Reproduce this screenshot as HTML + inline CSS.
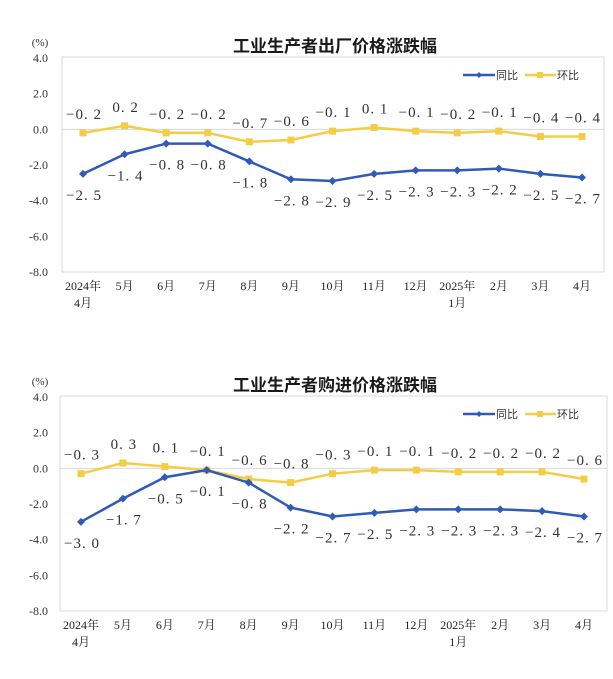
<!DOCTYPE html>
<html><head><meta charset="utf-8">
<style>
html,body{margin:0;padding:0;background:#fff;}
svg{display:block;font-family:"Liberation Serif","Noto Serif CJK SC",serif;}
</style></head>
<body>
<svg id="chart" width="613" height="679" viewBox="0 0 613 679" xmlns="http://www.w3.org/2000/svg"></svg>
<script>
const categories = ["2024年|4月","5月","6月","7月","8月","9月","10月","11月","12月","2025年|1月","2月","3月","4月"];
const yTicks = [4.0, 2.0, 0.0, -2.0, -4.0, -6.0, -8.0];
const chart1Title = "工业生产者出厂价格涨跌幅";
const chart1Yoy = [-2.5,-1.4,-0.8,-0.8,-1.8,-2.8,-2.9,-2.5,-2.3,-2.3,-2.2,-2.5,-2.7];
const chart1Mom = [-0.2,0.2,-0.2,-0.2,-0.7,-0.6,-0.1,0.1,-0.1,-0.2,-0.1,-0.4,-0.4];
const chart2Title = "工业生产者购进价格涨跌幅";
const chart2Yoy = [-3.0,-1.7,-0.5,-0.1,-0.8,-2.2,-2.7,-2.5,-2.3,-2.3,-2.3,-2.4,-2.7];
const chart2Mom = [-0.3,0.3,0.1,-0.1,-0.6,-0.8,-0.3,-0.1,-0.1,-0.2,-0.2,-0.2,-0.6];

const NS = "http://www.w3.org/2000/svg";
const root = document.getElementById('chart');
function mk(tag, attrs, parent, text){
  const e = document.createElementNS(NS, tag);
  for (const k in attrs) e.setAttribute(k, attrs[k]);
  if (text !== undefined) e.textContent = text;
  (parent||root).appendChild(e);
  return e;
}
function fmt(v){ return (v<0?"\u2212":"") + Math.abs(v).toFixed(1).replace(".", ". "); }
const BLUE="#2f5bb7", YEL="#f3cd46";

function drawChart(name, off, title, yoy, mom, plotL, plotR, x0, x1){
  const g = mk('g', {});
  
  
  const yTop = 58 + off, yBot = 272 + off;
  const yS = v => yTop + (4 - v) / 12 * (yBot - yTop);
  const xS = i => x0 + i * (x1 - x0) / (categories.length - 1);
  const t = mk('text', {x: 335, y: 52+off, 'text-anchor':'middle', 'font-size':17, 'font-weight':'bold', fill:'#1a1a1a', 'font-family':'"Noto Sans CJK SC",sans-serif'}, g, title);
  
  
  const u = mk('text', {x: 40, y: 46+off, 'text-anchor':'middle', 'font-size':11, fill:'#333'}, g, "(%)");
  
  
  const fr = mk('rect', {x: plotL, y: yTop-1, width: plotR-plotL, height: yBot-yTop+1, fill:'none', stroke:'#d9d9d9', 'stroke-width':1}, g);
  
  
  mk('line', {x1: plotL, x2: plotR, y1: yS(0), y2: yS(0), stroke:'#d9d9d9', 'stroke-width':1}, g);
  yTicks.forEach(v => {
    const tk = mk('text', {x: 48, y: yS(v)+4, 'text-anchor':'end', 'font-size':12, fill:'#333'}, g, v.toFixed(1));
    
    
  });
  categories.forEach((c, i) => {
    const parts = c.split('|');
    parts.forEach((p, j) => {
      const cl = mk('text', {x: xS(i), y: yBot+18+j*17, 'text-anchor':'middle', 'font-size':12, fill:'#222'}, g, p);
      
      
    });
  });
  function series(vals, color, sname, marker, labelDy){
    const pl = mk('polyline', {points: vals.map((v,i)=>xS(i)+','+yS(v)).join(' '), fill:'none', stroke: color, 'stroke-width':2.5}, g);
    
    
    vals.forEach((v,i) => {
      const x = xS(i), y = yS(v);
      let m;
      if (marker==='diamond') m = mk('polygon', {points: `${x},${y-4} ${x+4},${y} ${x},${y+4} ${x-4},${y}`, fill: color}, g);
      else m = mk('rect', {x: x-3.5, y: y-3.5, width:7, height:7, fill: color}, g);
      
      
      const lb = mk('text', {x: x+1, y: y+labelDy, 'text-anchor':'middle', 'font-size':15, 'letter-spacing':'1', fill:'#333'}, g, fmt(v));
      
      
    });
  }
  series(mom, YEL, 'mom', 'square', -14);
  series(yoy, BLUE, 'yoy', 'diamond', 26);
  const lg = mk('g', {}, g);
  
  
  const ly = 75 + off;
  mk('line', {x1:463, x2:495, y1:ly, y2:ly, stroke:BLUE, 'stroke-width':2.5}, lg);
  mk('polygon', {points:`479,${ly-3} 482,${ly} 479,${ly+3} 476,${ly}`, fill:BLUE}, lg);
  mk('text', {x:496, y:ly+4, 'font-size':11, fill:'#333', 'font-family':'"Noto Sans CJK SC",sans-serif'}, lg, '同比');
  mk('line', {x1:525, x2:556, y1:ly, y2:ly, stroke:YEL, 'stroke-width':2.5}, lg);
  mk('rect', {x:537, y:ly-3, width:6, height:6, fill:YEL}, lg);
  mk('text', {x:557, y:ly+4, 'font-size':11, fill:'#333', 'font-family':'"Noto Sans CJK SC",sans-serif'}, lg, '环比');
}
drawChart('output-price-chart', 0, chart1Title, chart1Yoy, chart1Mom, 62, 604, 83, 582);
drawChart('purchase-price-chart', 339, chart2Title, chart2Yoy, chart2Mom, 60, 607, 81, 584);
</script>
</body></html>
